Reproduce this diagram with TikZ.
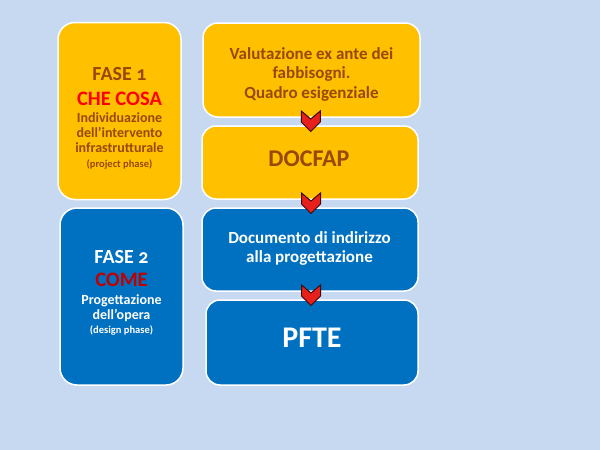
\documentclass[tikz,border=0pt]{standalone}
\usepackage{fontspec}
\setmainfont{Carlito}
\newfontfamily\oldnum[Numbers=OldStyle]{Carlito}
\usetikzlibrary{calc}
\definecolor{bgblue}{HTML}{C6D9F1}
\definecolor{pyellow}{HTML}{FFC000}
\definecolor{pblue}{HTML}{0070C0}
\definecolor{pbrown}{HTML}{984807}
\definecolor{pred}{HTML}{FF0000}
\definecolor{pdred}{HTML}{C00000}
\definecolor{chevred}{HTML}{E8201C}
\definecolor{chevline}{HTML}{3A0C0C}
\tikzset{
  box/.style={draw=white, line width=1.5pt, rounded corners=#1, inner sep=0pt},
  ybox/.style={box=#1, fill=pyellow},
  bbox/.style={box=#1, fill=pblue},
  txt/.style={anchor=base, inner sep=0pt, font=\bfseries},
  chevron/.pic={\draw[fill=chevred, draw=chevline, line width=1pt, line join=miter]
     (-9.5,-10.5) -- (0,-2.5) -- (9.5,-10.5) -- (9.5,0.5) -- (0,10) -- (-9.5,0.5) -- cycle;}
}
\begin{document}
\begin{tikzpicture}[x=1pt,y=-1pt]
\useasboundingbox (0,0) rectangle (600,450);
\fill[bgblue] (0,0) rectangle (600,450);
% boxes
\node[ybox=17pt, minimum width=123pt, minimum height=177pt] (f1) at (119.5,111) {};
\node[bbox=17pt, minimum width=123pt, minimum height=177pt] (f2) at (121.5,296.5) {};
\node[ybox=15pt, minimum width=217pt, minimum height=94pt] (r1) at (311.5,70) {};
\node[ybox=14pt, minimum width=216pt, minimum height=73pt] (r2) at (310,162.5) {};
\node[bbox=14pt, minimum width=216pt, minimum height=83pt] (r3) at (310,249.5) {};
\node[bbox=14pt, minimum width=212pt, minimum height=85pt] (r4) at (312,342.5) {};
% chevrons
\coordinate (c1) at ($(r1.south)!0.5!(r2.north)$);
\coordinate (c2) at ($(r2.south)!0.5!(r3.north)$);
\coordinate (c3) at ($(r3.south)!0.5!(r4.north)$);
\pic at ([xshift=0pt]c1) {chevron};
\pic at ([xshift=1pt]c2) {chevron};
\pic at ([xshift=0pt]c3) {chevron};
% FASE 1 text
\node[txt, text=pbrown, font=\bfseries\fontsize{20}{24}\selectfont] (f1a) at (119.5,80.5) {FASE {\oldnum 1}};
\node[txt, text=pred, font=\bfseries\fontsize{20.5}{24}\selectfont] (f1b) at (119.5,105.5) {CHE COSA};
\node[txt, text=pbrown, font=\bfseries\fontsize{14}{16}\selectfont] (f1c) at (119.5,122.5) {Individuazione};
\node[txt, text=pbrown, font=\bfseries\fontsize{14}{16}\selectfont] (f1d) at (119.5,137.5) {dell’intervento};
\node[txt, text=pbrown, font=\bfseries\fontsize{14}{16}\selectfont] (f1e) at (119.5,152.5) {infrastrutturale};
\node[txt, text=pbrown, font=\bfseries\fontsize{10.5}{12}\selectfont] (f1f) at (119.5,167.5) {(project phase)};
% FASE 2 text
\node[txt, text=white, font=\bfseries\fontsize{20}{24}\selectfont] (f2a) at (121.5,263) {FASE {\oldnum 2}};
\node[txt, text=pdred, font=\bfseries\fontsize{20.5}{24}\selectfont] (f2b) at (121.5,286) {COME};
\node[txt, text=white, font=\bfseries\fontsize{14}{16}\selectfont] (f2c) at (121.5,304) {Progettazione};
\node[txt, text=white, font=\bfseries\fontsize{14}{16}\selectfont] (f2d) at (121.5,319) {dell’opera};
\node[txt, text=white, font=\bfseries\fontsize{10.5}{12}\selectfont] (f2e) at (121.5,333) {(design phase)};
% right texts
\node[txt, text=pbrown, font=\bfseries\fontsize{17}{20}\selectfont] (r1a) at (311.5,59) {Valutazione ex ante dei};
\node[txt, text=pbrown, font=\bfseries\fontsize{17}{20}\selectfont] (r1b) at (311.5,78.5) {fabbisogni.};
\node[txt, text=pbrown, font=\bfseries\fontsize{17}{20}\selectfont] (r1c) at (311.5,98) {Quadro esigenziale};
\node[txt, text=pbrown, font=\bfseries\fontsize{24}{28}\selectfont] (r2a) at (309,166) {DOCFAP};
\node[txt, text=white, font=\bfseries\fontsize{17}{20}\selectfont] (r3a) at (309.5,243) {Documento di indirizzo};
\node[txt, text=white, font=\bfseries\fontsize{17}{20}\selectfont] (r3b) at (309.5,262) {alla progettazione};
\node[txt, text=white, font=\bfseries\fontsize{30}{34}\selectfont] (r4a) at (312,347) {PFTE};
\end{tikzpicture}
\end{document}
